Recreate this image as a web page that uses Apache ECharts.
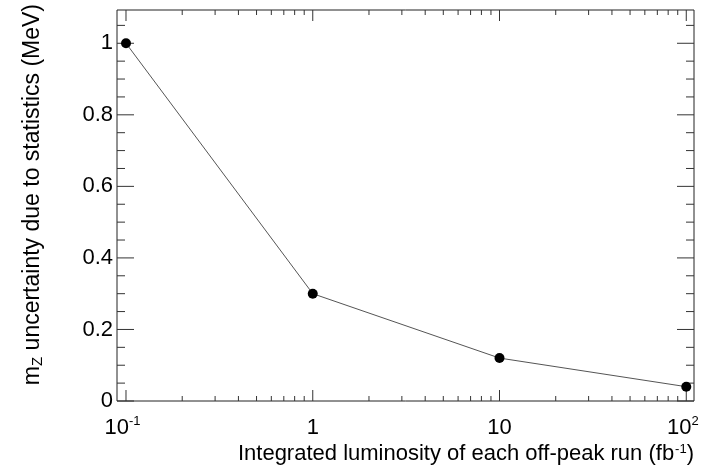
<!DOCTYPE html>
<html><head><meta charset="utf-8">
<script src="https://cdn.jsdelivr.net/npm/echarts@6/dist/echarts.min.js"></script>
<style>html,body{margin:0;padding:0;background:#fff}#c{width:706px;height:472px}</style>
</head><body><div id="c"></div>
<script>
const luminosity = [0.1, 1, 10, 100];
const uncertainty = [1.0, 0.3, 0.12, 0.04];
const xMajorTicks = [0.1, 1, 10, 100];
const xMinorTicks = [0.2,0.3,0.4,0.5,0.6,0.7,0.8,0.9,2,3,4,5,6,7,8,9,20,30,40,50,60,70,80,90];
const yMajorTicks = [0, 0.2, 0.4, 0.6, 0.8, 1.0];
const yMinorTicks = [0.05,0.1,0.15,0.25,0.3,0.35,0.45,0.5,0.55,0.65,0.7,0.75,0.85,0.9,0.95,1.05];
const xLabels = {'-1':'{b|10}{s|-1}', '0':'{b|1}', '1':'{b|10}', '2':'{b|10}{s|2}'};
const xTitle = 'Integrated luminosity of each off-peak run (fb{s|-1}{t|)}';
const yTitle = '{t|m}{z|Z}{t| uncertainty due to statistics (MeV)}';
const X_MIN = 0.0895, X_MAX = 110, Y_MIN = 0, Y_MAX = 1.093;
const FONT = 'Liberation Sans, Arial, Helvetica, sans-serif';
const TICK = '#333';

function xTicks(len){
  return function(params, api){
    const x = api.value(0);
    const b = api.coord([x, Y_MIN]);
    const t = api.coord([x, Y_MAX]);
    return {type:'group', children:[
      {type:'line', shape:{x1:b[0],y1:b[1],x2:b[0],y2:b[1]-len}, style:{stroke:TICK,lineWidth:1}},
      {type:'line', shape:{x1:t[0],y1:t[1],x2:t[0],y2:t[1]+len}, style:{stroke:TICK,lineWidth:1}}
    ]};
  };
}
function yTicks(len){
  return function(params, api){
    const y = api.value(1);
    const l = api.coord([X_MIN, y]);
    const r = api.coord([X_MAX, y]);
    return {type:'group', children:[
      {type:'line', shape:{x1:l[0],y1:l[1],x2:l[0]+len,y2:l[1]}, style:{stroke:TICK,lineWidth:1}},
      {type:'line', shape:{x1:r[0],y1:r[1],x2:r[0]-len,y2:r[1]}, style:{stroke:TICK,lineWidth:1}}
    ]};
  };
}

const chart = echarts.init(document.getElementById('c'), null, {renderer:'canvas'});
chart.setOption({
  animation:false,
  backgroundColor:'#fff',
  grid:{left:117, right:12, top:10, bottom:71, show:true, borderColor:'#222', borderWidth:1, backgroundColor:'transparent'},
  xAxis:{
    type:'log', logBase:10, min:X_MIN, max:X_MAX,
    axisLine:{show:false}, axisTick:{show:false}, splitLine:{show:false}, minorTick:{show:false},
    axisLabel:{
      margin:14, color:'#000', fontFamily:FONT, fontSize:22,
      showMinLabel:false, showMaxLabel:false,
      formatter:function(v){
        const e = Math.log10(v);
        const r = Math.round(e);
        if (Math.abs(e-r) > 1e-6) return '';
        return xLabels[String(r)] || '';
      },
      rich:{b:{fontSize:22, fontFamily:FONT, color:'#000', padding:[2,0,0,0]},
            s:{fontSize:13, fontFamily:FONT, color:'#000', verticalAlign:'top', padding:[0,7,0,0]}}
    },
    name:xTitle, nameLocation:'end', nameGap:0,
    nameTextStyle:{color:'#000', fontFamily:FONT, fontSize:22, align:'right', verticalAlign:'top', padding:[42,0,0,0],
      rich:{s:{fontSize:13, fontFamily:FONT, color:'#000', verticalAlign:'top', padding:[0,0,0,1]}, t:{fontSize:22, fontFamily:FONT, color:'#000'}}}
  },
  yAxis:{
    type:'value', min:Y_MIN, max:Y_MAX, interval:0.2,
    axisLine:{show:false}, axisTick:{show:false}, splitLine:{show:false},
    axisLabel:{margin:4, color:'#000', fontFamily:FONT, fontSize:22, showMaxLabel:false,
      formatter:function(v){ return Math.abs(v/0.2 - Math.round(v/0.2))<1e-6 ? String(+v.toFixed(1)) : ''; }},
    name:yTitle, nameLocation:'end', nameGap:6, nameRotate:90,
    nameTextStyle:{color:'#000', fontFamily:FONT, fontSize:23, align:'right', verticalAlign:'bottom', padding:[0,0,72,0],
      rich:{t:{fontSize:23, fontFamily:FONT, color:'#000'}, z:{fontSize:15, fontFamily:FONT, color:'#000', verticalAlign:'bottom', padding:[10,0,0,0]}}}
  },
  series:[
    {type:'custom', renderItem:xTicks(11), data:xMajorTicks.map(v=>[v, Y_MIN]), silent:true, z:5},
    {type:'custom', renderItem:xTicks(5), data:xMinorTicks.map(v=>[v, Y_MIN]), silent:true, z:5},
    {type:'custom', renderItem:yTicks(17), data:yMajorTicks.map(v=>[X_MIN, v]), silent:true, z:5},
    {type:'custom', renderItem:yTicks(8), data:yMinorTicks.map(v=>[X_MIN, v]), silent:true, z:5},
    {type:'line', data:luminosity.map((x,i)=>[x, uncertainty[i]]), symbol:'circle', symbolSize:10,
     lineStyle:{color:'#555', width:1}, itemStyle:{color:'#000'}, z:10}
  ]
});
</script></body></html>
